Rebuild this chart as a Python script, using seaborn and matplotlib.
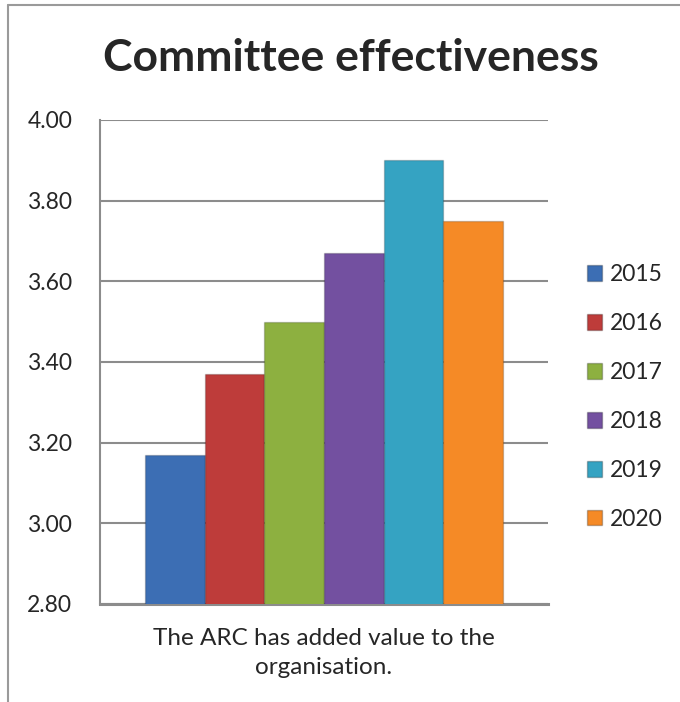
import matplotlib
matplotlib.use("Agg")
import matplotlib.pyplot as plt
from matplotlib.lines import Line2D
import pandas as pd
import seaborn as sns

question = ["The ARC has added value to the\norganisation."]
years = ["2015", "2016", "2017", "2018", "2019", "2020"]
scores = [3.17, 3.37, 3.50, 3.67, 3.90, 3.75]
bar_colors = ["#3C6EB4", "#BE3C3A", "#8DB040", "#7350A0", "#35A3C2", "#F58A26"]
y_ticks = [2.80, 3.00, 3.20, 3.40, 3.60, 3.80, 4.00]

sns.set_theme(style="white")
plt.rcParams["font.family"] = ["Lato", "DejaVu Sans"]

df = pd.DataFrame({"question": question * len(years), "year": years, "score": scores})

fig = plt.figure(figsize=(6.8, 7.02), dpi=100)
ax = fig.add_axes([100 / 680, 1 - 604 / 702, 448 / 680, 484 / 702])

sns.barplot(data=df, x="question", y="score", hue="year", palette=bar_colors,
            width=0.8, ax=ax, saturation=1, legend=False)
for patch in ax.patches:
    patch.set_edgecolor("#00000030")
    patch.set_linewidth(1.0)
    patch.set_zorder(3)

ax.set_ylim(2.80, 4.00)
ax.set_yticks(y_ticks)
ax.set_yticklabels([f"{t:.2f}" for t in y_ticks], fontsize=16.5)
ax.tick_params(axis="y", length=0, pad=20)
ax.set_xticks([])
ax.set_xlim(-0.5, 0.5)
ax.set_xlabel(question[0], fontsize=17.5, labelpad=17, linespacing=1.5)
ax.set_ylabel("")

ax.yaxis.grid(True, color="#8C8C8C", linewidth=1.5)
ax.set_axisbelow(True)
for side in ["top", "right"]:
    ax.spines[side].set_visible(False)
ax.spines["left"].set_color("#8C8C8C")
ax.spines["left"].set_linewidth(1.5)
ax.spines["bottom"].set_color("#8C8C8C")
ax.spines["bottom"].set_linewidth(2.2)

handles = [plt.Rectangle((0, 0), 1, 1, facecolor=c, edgecolor="#00000040") for c in bar_colors]
fig.legend(handles, years, loc="center left", bbox_to_anchor=(578 / 680, 1 - 397 / 702),
           frameon=False, fontsize=16.5, handlelength=0.65, handleheight=0.65,
           handletextpad=0.35, labelspacing=1.22, borderaxespad=0)

fig.text(351 / 680, 1 - 58 / 702, "Committee effectiveness", ha="center", va="center",
         fontsize=32, fontweight="bold")

# chart-area border (left and top only visible)
fig.add_artist(Line2D([8 / 680, 8 / 680], [0, 1 - 5 / 702], color="#9A9A9A", linewidth=1.5))
fig.add_artist(Line2D([8 / 680, 1], [1 - 5 / 702, 1 - 5 / 702], color="#9A9A9A", linewidth=1.5))

fig.savefig("out.png", dpi=100)
